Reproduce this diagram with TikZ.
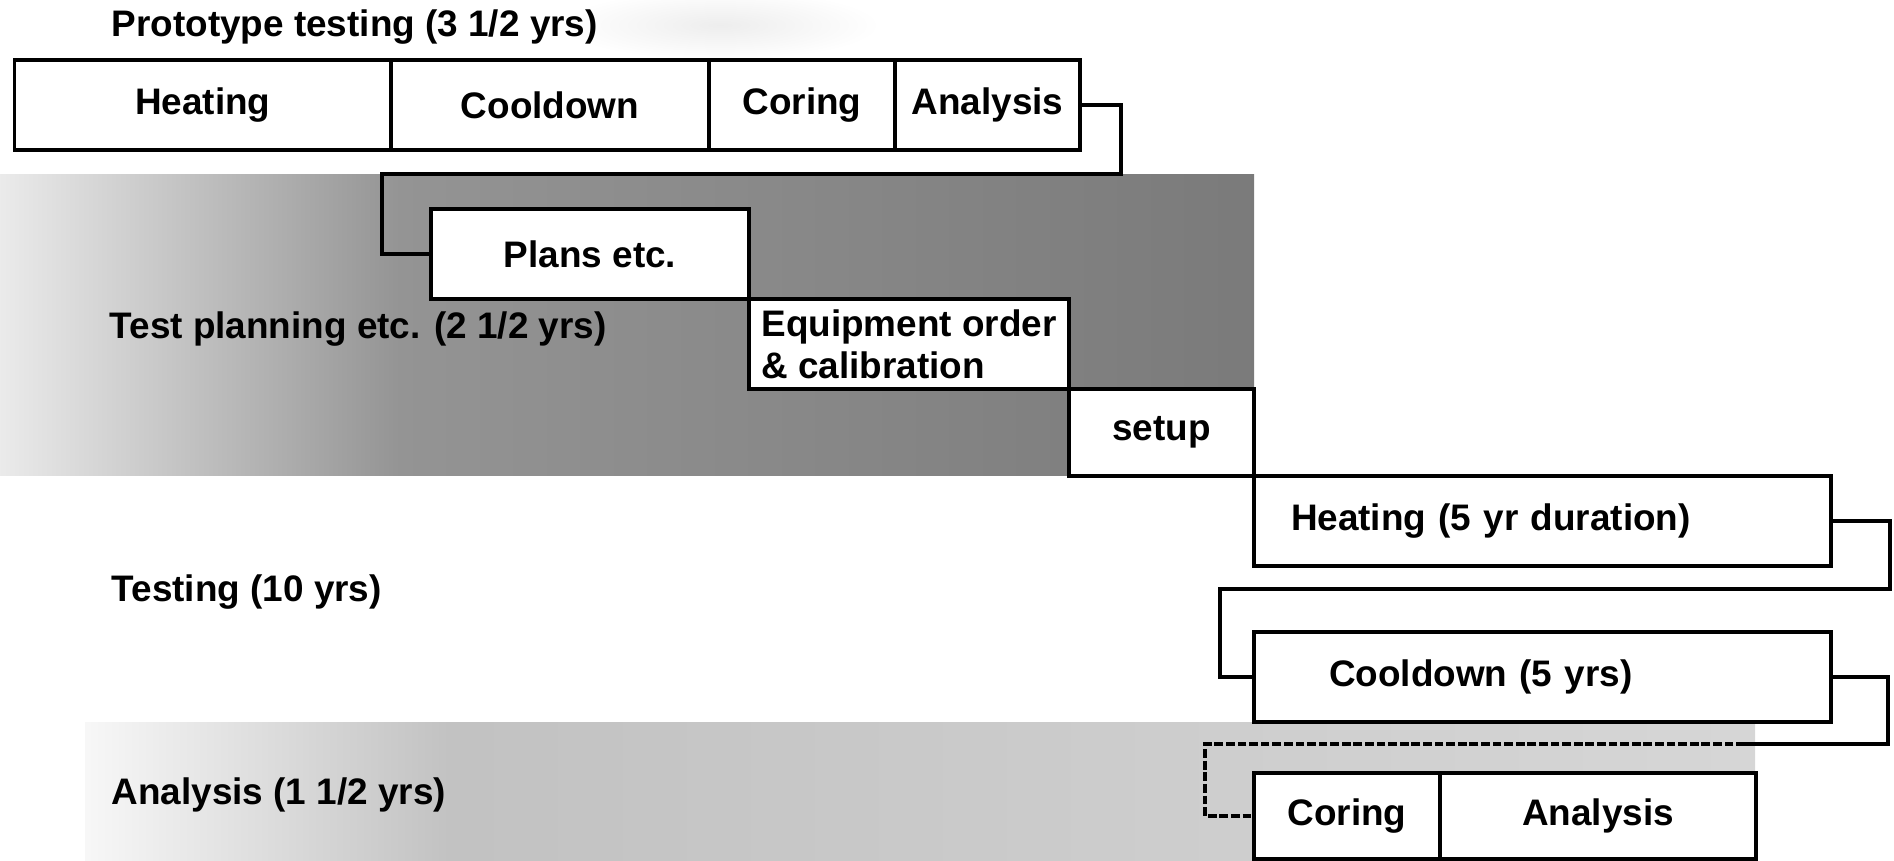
\documentclass[tikz,border=0pt]{standalone}
\usepackage{fontspec}
\setmainfont{Liberation Sans}
\usetikzlibrary{positioning}

\begin{document}
\begin{tikzpicture}[
  x=1cm, y=-1cm,
  phasebox/.style={
    draw=black, line width=0.9pt, fill=white, outer sep=0pt,
    minimum height=0.9cm, inner sep=0pt, align=center,
    font=\fontsize{10.5pt}{12pt}\selectfont\bfseries
  },
  phaselabel/.style={
    anchor=west, inner sep=0pt,
    font=\fontsize{10.5pt}{12pt}\selectfont\bfseries
  },
  link/.style={draw=black, line width=0.9pt},
  dashlink/.style={link, dash pattern=on 2.5pt off 0.8pt},
]
\useasboundingbox (0,0) rectangle (18.94,8.60);

% ============================================================
% Stippled backdrops
% ============================================================
\shade[left color=black!8, right color=black!42] (0,1.74) rectangle (4.0,4.75);
\shade[left color=black!42, right color=black!52] (3.99,1.74) rectangle (12.54,4.75);
\shade[left color=black!3, right color=black!24] (0.85,7.22) rectangle (4.5,8.70);
\shade[left color=black!24, right color=black!16] (4.49,7.22) rectangle (17.55,8.70);
\shade[inner color=black!7, outer color=white] (7.2,0.25) ellipse (1.6 and 0.35);

% ============================================================
% Prototype testing
% ============================================================
\node[phaselabel] (lbl-proto) at (1.11,0.27) {Prototype testing (3 1/2 yrs)};

\node[phasebox, minimum width=3.765cm, anchor=north west] (p-heat) at (0.145,0.60) {Heating};
\node[phasebox, minimum width=3.18cm, right=0pt of p-heat] (p-cool) {Cooldown};
\node[phasebox, minimum width=1.86cm, right=0pt of p-cool] (p-core) {Coring};
\node[phasebox, minimum width=1.85cm, right=0pt of p-core] (p-ana) {Analysis};

% ============================================================
% Test planning
% ============================================================
\node[phaselabel] (lbl-plan) at (1.09,3.29) {Test planning etc. (2 1/2 yrs)};

\node[phasebox, minimum width=3.18cm, anchor=north west] (t-plans) at (4.31,2.09) {Plans etc.};
\node[phasebox, minimum width=3.20cm, align=left, below right=0pt of t-plans] (t-equip)
  {Equipment order\\\& calibration};
\node[phasebox, minimum width=1.85cm, minimum height=0.87cm, below right=0pt of t-equip] (t-setup) {setup};

% ============================================================
% Testing
% ============================================================
\node[phaselabel] (lbl-test) at (1.11,5.92) {Testing (10 yrs)};

\node[phasebox, align=left, text width=5.03cm, inner xsep=0.37cm,
      below right=0pt of t-setup] (x-heat) {Heating (5 yr duration)};
\node[phasebox, align=left, text width=4.27cm, inner xsep=0.75cm,
      anchor=north west] (x-cool) at (12.54,6.32) {Cooldown (5 yrs)};

% ============================================================
% Analysis
% ============================================================
\node[phaselabel] (lbl-ana) at (1.11,7.95) {Analysis (1 1/2 yrs)};

\node[phasebox, minimum width=1.86cm, minimum height=0.86cm, anchor=north west] (a-core) at (12.54,7.73) {Coring};
\node[phasebox, minimum width=3.16cm, minimum height=0.86cm, right=0pt of a-core] (a-ana) {Analysis};

% ============================================================
% Hand-over connectors
% ============================================================
\coordinate (j1) at (11.21,1.74);
\coordinate (j2) at (3.82,1.74);
\draw[link] (p-ana.east) -| (j1) -- (j2) |- (t-plans.west);

\coordinate (j3) at (18.90,5.89);
\coordinate (j4) at (12.20,5.89);
\draw[link] (x-heat.east) -| (j3) -- (j4) |- (x-cool.west);

\coordinate (j5) at (18.88,7.44);
\coordinate (j6) at (17.45,7.44);
\coordinate (j7) at (12.05,7.44);
\draw[link] (x-cool.east) -| (j5) -- (j6);
\draw[dashlink] (j6) -- (j7) |- (a-core.west);

\end{tikzpicture}
\end{document}
